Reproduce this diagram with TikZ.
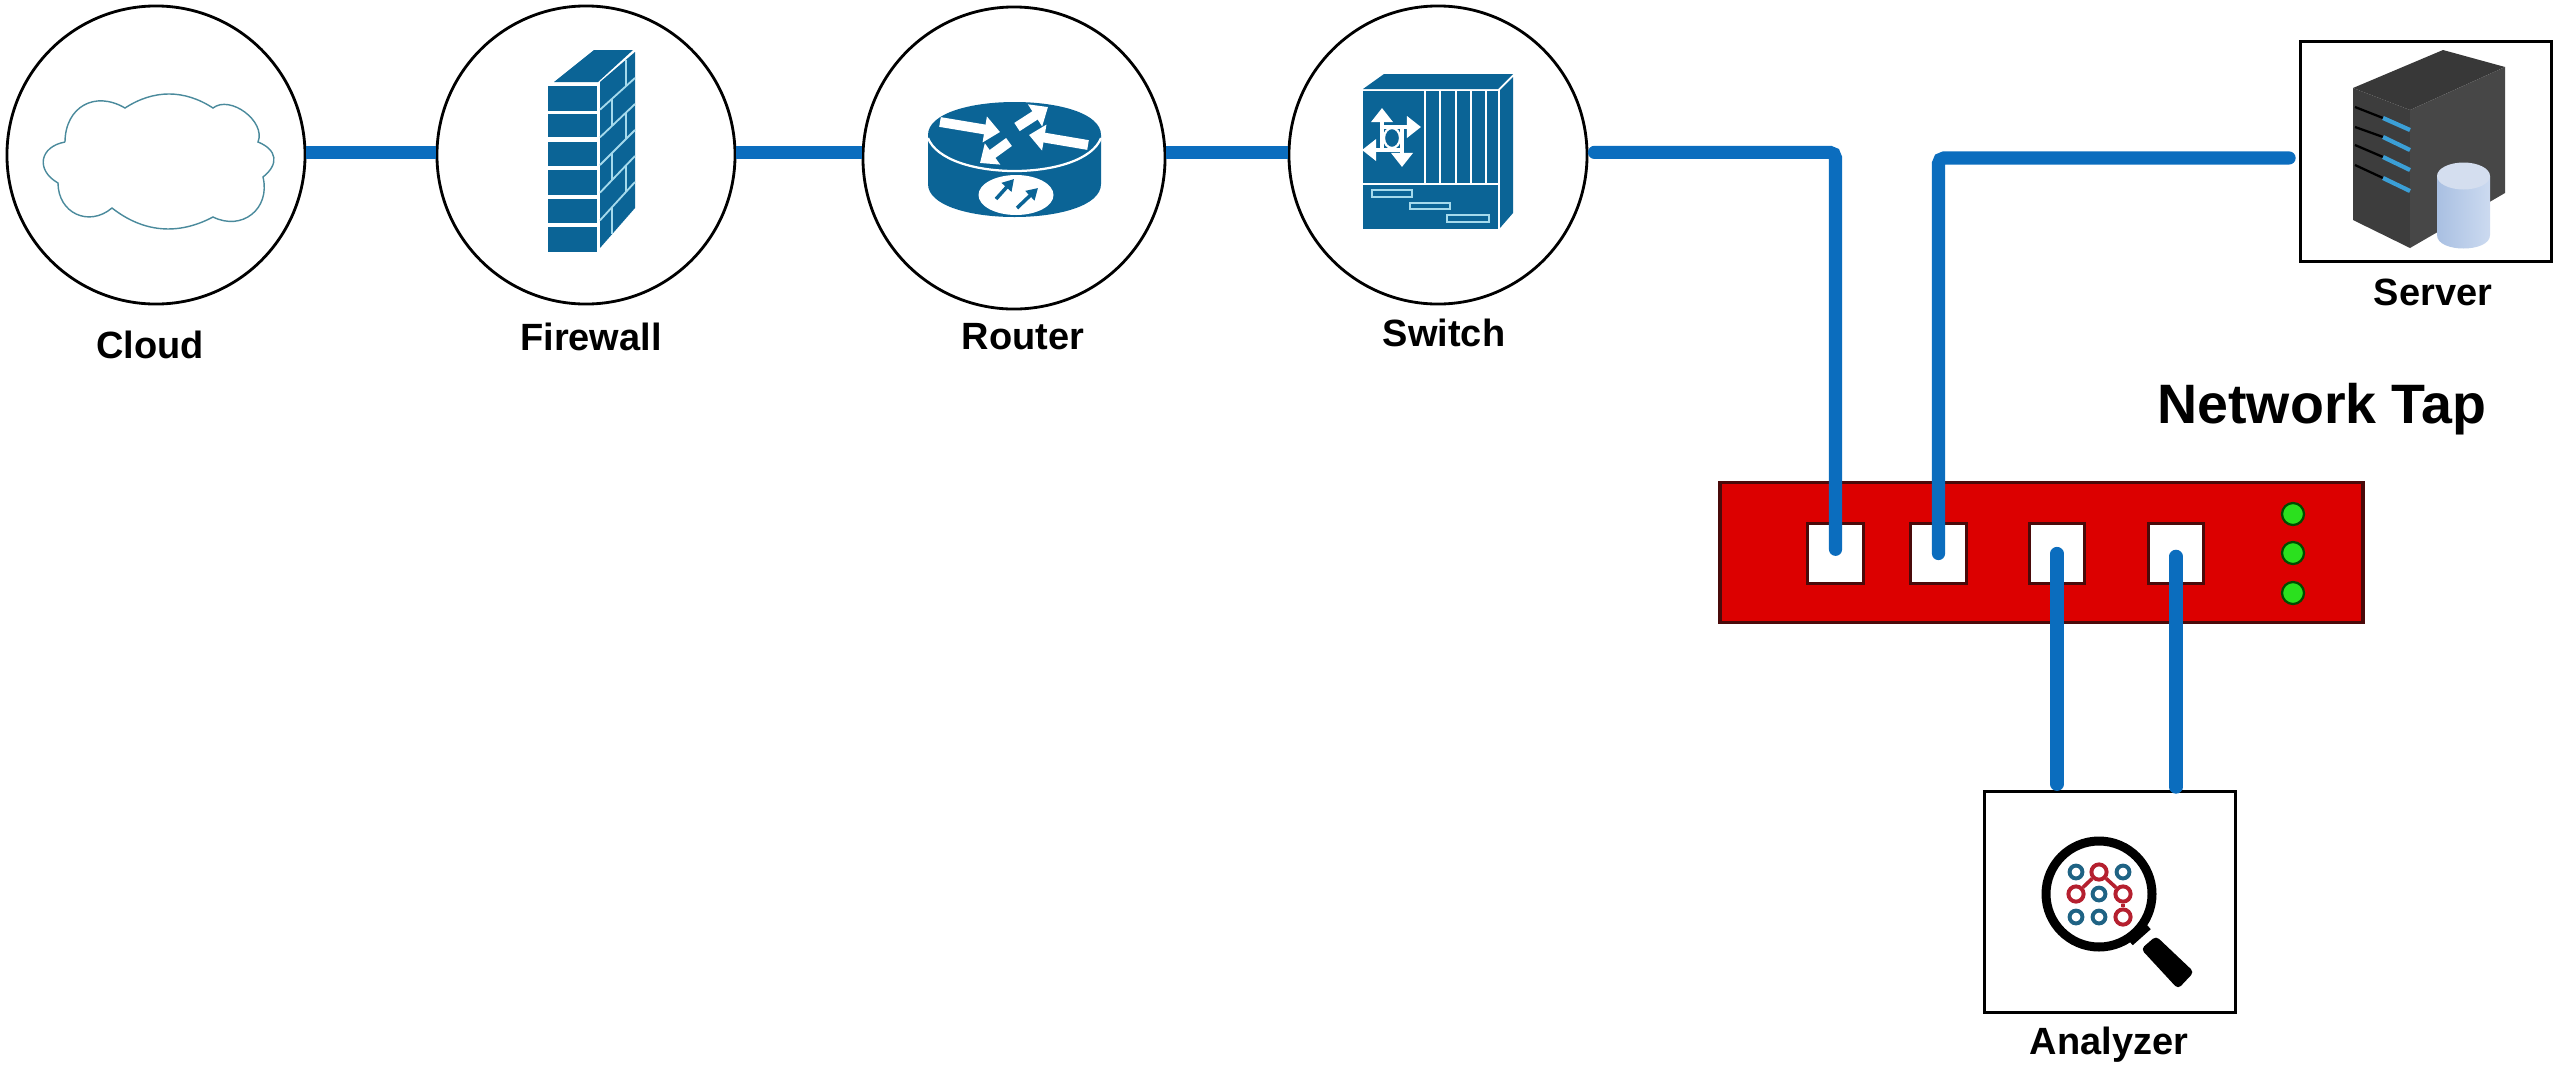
\documentclass[tikz,border=0pt]{standalone}
\usepackage{fontspec}
\setmainfont{Liberation Sans}
\usepackage{tikz}
\usetikzlibrary{arrows.meta,calc,positioning,shapes.geometric}
\definecolor{wireblue}{HTML}{0B6DBE}
\definecolor{iconblue}{HTML}{0B6496}
\definecolor{iconline}{HTML}{A5DAEC}
\definecolor{tapred}{HTML}{DC0000}
\definecolor{tapedge}{HTML}{4A0A0A}
\definecolor{ledgreen}{HTML}{2BE01E}
\definecolor{dotblue}{HTML}{1F6384}
\definecolor{dotred}{HTML}{B5202F}
\definecolor{cloudline}{HTML}{4A8A9C}
\definecolor{slotblue}{HTML}{3B9FD6}
\definecolor{drumlo}{HTML}{A9C0E2}
\definecolor{drumhi}{HTML}{CCDAF0}
\definecolor{drumtop}{HTML}{D4DEEF}
\begin{document}
\begin{tikzpicture}[x=0.025cm,y=-0.025cm,
		devc/.style={draw,circle,fill=white,line width=2pt,inner sep=0pt,minimum size=7.45cm},
		devb/.style={draw,rectangle,fill=white,line width=2.4pt,inner sep=0pt},
		lbl/.style={inner sep=0pt,font=\fontsize{27}{32}\selectfont\bfseries},
		port/.style={draw=tapedge,rectangle,fill=white,line width=2.2pt,inner sep=0pt,minimum width=1.38cm,minimum height=1.48cm},
		led/.style={draw=black!70!green,ellipse,fill=ledgreen,line width=1.6pt,inner sep=0pt,minimum width=0.55cm,minimum height=0.55cm},
		wire/.style={line width=9.4pt,color=wireblue,rounded corners=4pt},
		brick/.style={draw=iconline,line width=1.3pt},
		white arrow/.style={draw=white,line width=7pt,-{Triangle[length=11pt,width=18pt]}},
		small arrow/.style={iconblue,line width=2.5pt,-{Triangle[length=8pt,width=9pt]}},
		cross arrow/.style={white,line width=2.4pt,-{Triangle[length=10pt,width=15pt]}},
		dotb/.style={draw=dotblue,circle,line width=2.8pt,inner sep=0pt,minimum size=0.32cm,fill=white},
		dotr/.style={draw=dotred,circle,line width=2.8pt,inner sep=0pt,minimum size=0.38cm,fill=white}]
	\useasboundingbox (0,0) rectangle (2560,1074);
	\node[devc] (cloud) at (156,155) {};
	\node[devc] (firewall) at (586,155) {};
	\node[devc,minimum size=7.55cm] (router) at (1014,158) {};
	\node[devc] (switch) at (1438,155) {};
	\node[lbl] (cloudlabel) at (150,345) {Cloud};
	\node[lbl] (firewalllabel) at (591,337) {Firewall};
	\node[lbl] (routerlabel) at (1023,337) {Router};
	\node[lbl] (switchlabel) at (1444,333) {Switch};
	\draw[cloudline,line width=1pt] (65,142) to[bend left=60,looseness=1.3] (125,108) to[bend left=33] (213,108)
		to[bend left=75] (258,142) to[bend left=60,looseness=1.5] (263,177) to[bend left=65,looseness=1.3] (213,217)
		to[bend left=33] (112,208) to[bend left=65,looseness=1.3] (58,183) to[bend left=70,looseness=1.6] (65,142);
	\foreach \ytop/\yend in {86/111,114/137,142/166,170/195,199/223,227/252}
		\fill[iconblue] (548,\ytop) rectangle (597,\yend);
	\fill[iconblue] (554,82) -- (594,50) -- (633,50) -- (598,82) -- cycle;
	\fill[iconblue] (600,82) -- (635,52) -- (635,208) -- (600,248) -- cycle;
	\foreach \k in {1,...,5}
		\draw[brick] (600,{82+27.67*\k}) -- (635,{52+26*\k});
	\foreach \k/\t in {0/0.74,1/0.34,2/0.74,3/0.34,4/0.74,5/0.34}
		\draw[brick] ({600+35*\t},{82+27.67*\k-(30+1.67*\k)*\t}) -- ({600+35*\t},{82+27.67*(\k+1)-(30+1.67*(\k+1))*\t});
	\fill[iconblue] (928,135) .. controls (928,91) and (1101,91) .. (1101,135) -- (1101,184)
		.. controls (1101,228) and (928,228) .. (928,184) -- cycle;
	\draw[white,line width=1.6pt] (928,138) .. controls (945,182) and (1084,182) .. (1101,138);
	\draw[white arrow] (940,122) -- (1000,132);
	\draw[white arrow] (1017,127) -- (1048,107);
	\draw[white arrow] (1088,145) -- (1029,135);
	\draw[white arrow] (1009,142) -- (980,163);
	\fill[white] (1016,195) ellipse (37.5 and 20);
	\draw[small arrow] (996,199) -- (1014,179);
	\draw[small arrow] (1017,208) -- (1038,188);
	\fill[iconblue] (1363,91) rectangle (1498,229);
	\fill[iconblue] (1363,89) -- (1384,74) -- (1513,74) -- (1498,89) -- cycle;
	\fill[iconblue] (1500,90) -- (1513,77) -- (1513,213) -- (1500,228) -- cycle;
	\draw[brick,draw=white] (1363,184) -- (1498,184);
	\foreach \x in {1425,1440,1456,1471,1486}
		\draw[brick,draw=white,line width=1.1pt] (\x,91) -- (\x,184);
	\draw[brick] (1372,190) rectangle (1412,197);
	\draw[brick] (1410,203) rectangle (1450,209);
	\draw[brick] (1447,215) rectangle (1489,222);
	\draw[cross arrow] (1382,150) -- (1382,108);
	\draw[cross arrow] (1382,127) -- (1421,127);
	\draw[cross arrow] (1402,150) -- (1362,150);
	\draw[cross arrow] (1402,127) -- (1402,167);
	\draw[white,line width=1.6pt] (1392,138) ellipse (8 and 10);
	\node[devb,minimum width=6.27cm,minimum height=5.5cm] (server) at (2426,151.5) {};
	\node[lbl] (serverlabel) at (2433,292) {Server};
	\fill[black!78] (2353,88) -- (2443,50) -- (2505,67) -- (2410,110) -- cycle;
	\fill[black!76] (2353,88) -- (2410,110) -- (2410,248) -- (2353,220) -- cycle;
	\fill[black!72] (2410,110) -- (2505,67) -- (2505,193) -- (2410,248) -- cycle;
	\foreach \ya/\yb/\yc in {107/118/130,127/137/150,145/157/170,165/178/191} {
		\draw[black,line width=1.6pt] (2355,\ya) -- (2383,\yb);
		\draw[slotblue,line width=3pt] (2383,\yb) -- (2410,\yc);
	}
	\shade[left color=drumlo,right color=drumhi] (2437,176) -- (2437,235) .. controls (2437,253) and (2490,253) .. (2490,235) -- (2490,176) -- cycle;
	\fill[drumtop] (2463.5,176) ellipse (26.5 and 13.5);
	\node[draw=tapedge,rectangle,fill=tapred,line width=2.2pt,inner sep=0pt,minimum width=16.07cm,minimum height=3.52cm] (tap) at (2041.5,552.5) {};
	\node[lbl,font=\fontsize{39.5}{46}\selectfont\bfseries] (taplabel) at (2322,409) {Network Tap};
	\node[port] (port1) at (1835.5,553.5) {};
	\node[port] (port2) at (1938.5,553.5) {};
	\node[port] (port3) at (2057,553.5) {};
	\node[port] (port4) at (2176,553.5) {};
	\node[led] (led1) at (2293,514) {};
	\node[led] (led2) at (2293,553) {};
	\node[led] (led3) at (2293,593) {};
	\node[devb,minimum width=6.27cm,minimum height=5.52cm] (analyzer) at (2110,902) {};
	\node[lbl] (analyzerlabel) at (2109,1045) {Analyzer};
	\draw[black,line width=6.4pt] (2099,894) circle (53);
	\draw[black,line width=8pt] (2129,941) -- (2147,925);
	\fill[black,rounded corners=3pt] (2141,949) -- (2156,936) -- (2194,972) -- (2178,989) -- cycle;
	\node[dotb] (d1) at (2076,872) {};
	\node[dotr] (d2) at (2099,872) {};
	\node[dotb] (d3) at (2123,872) {};
	\node[dotr] (d4) at (2076,894) {};
	\node[dotb] (d5) at (2099,894) {};
	\node[dotr] (d6) at (2123,894) {};
	\node[dotb] (d7) at (2076,917) {};
	\node[dotb] (d8) at (2099,917) {};
	\node[dotr] (d9) at (2123,917) {};
	\draw[dotred,line width=2.6pt] (d4) -- (d2);
	\draw[dotred,line width=2.6pt] (d2) -- (d6);
	\draw[dotred,line width=2.6pt] (d6) -- (d9);
	\draw[wire] (cloud.1) -- (cloud.1 -| firewall.west);
	\draw[wire] (firewall.1) -- (firewall.1 -| router.west);
	\draw[wire] (router.2) -- (router.2 -| switch.west);
	\draw[wire,line cap=round] ([xshift=4.3pt]switch.1) -| ([yshift=3pt]port1.center);
	\draw[wire,line cap=round] (port2.center) |- ([xshift=-7pt,yshift=-4.6pt]server.west);
	\draw[wire,line cap=round] (port3.center) -- ([yshift=4pt]port3.center |- analyzer.north);
	\draw[wire,line cap=round] ([yshift=-2pt]port4.center) -- ([yshift=2pt]port4.center |- analyzer.north);
\end{tikzpicture}
\end{document}
